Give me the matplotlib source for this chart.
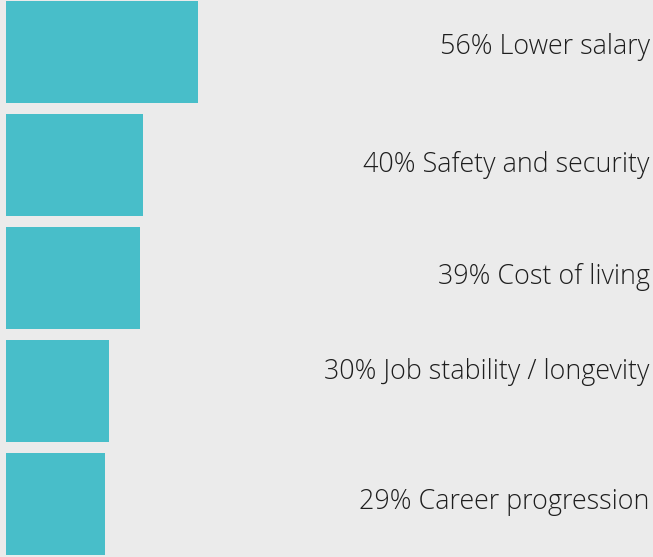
import matplotlib
matplotlib.use("Agg")
import matplotlib.pyplot as plt

# Data
labels = ["Lower salary", "Safety and security", "Cost of living",
          "Job stability / longevity", "Career progression"]
values = [56, 40, 39, 30, 29]

bg = "#ebebeb"
bar_color = "#48bec9"

fig = plt.figure(figsize=(6.53, 5.57), dpi=100, facecolor=bg)
ax = fig.add_axes([0, 0, 1, 1])
ax.set_facecolor(bg)

ypos = list(range(len(values)))
ax.barh(ypos, values, height=0.9, color=bar_color, left=0)

# pixel-based limits: 6px left pad, ~3.43 px per percent, 113 px per row
ax.set_xlim(-6 / 3.43, (653 - 6) / 3.43)
ax.set_ylim((557 - 52) / 113, -52 / 113)

# label nudges (rows), labels are not perfectly centred in the original
label_shift = [-0.04, 0.0, -0.01, -0.17, -0.02]

for i, (lab, v) in enumerate(zip(labels, values)):
    ax.text(0.995, i + label_shift[i], f"{v}% {lab}",
            transform=ax.get_yaxis_transform(),
            ha="right", va="center", fontsize=19.4, color="#1e1e1e",
            family="Open Sans", fontweight="light")

ax.axis("off")
plt.savefig("out.png", dpi=100, facecolor=bg)
